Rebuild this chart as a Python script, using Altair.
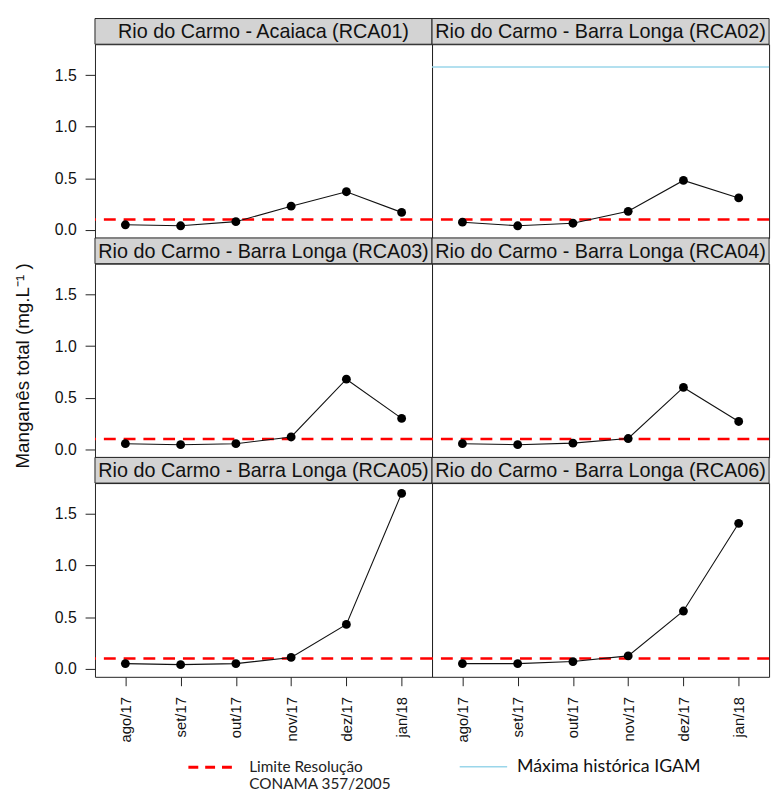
import altair as alt
import pandas as pd

months = ["ago/17", "set/17", "out/17", "nov/17", "dez/17", "jan/18"]
stations = [
    "Rio do Carmo - Acaiaca (RCA01)",
    "Rio do Carmo - Barra Longa (RCA02)",
    "Rio do Carmo - Barra Longa (RCA03)",
    "Rio do Carmo - Barra Longa (RCA04)",
    "Rio do Carmo - Barra Longa (RCA05)",
    "Rio do Carmo - Barra Longa (RCA06)",
]
rca01 = [0.05, 0.04, 0.08, 0.23, 0.37, 0.17]
rca02 = [0.075, 0.04, 0.065, 0.18, 0.48, 0.31]
rca03 = [0.055, 0.045, 0.055, 0.12, 0.68, 0.30]
rca04 = [0.055, 0.045, 0.06, 0.105, 0.60, 0.27]
rca05 = [0.05, 0.04, 0.05, 0.11, 0.43, 1.70]
rca06 = [0.05, 0.05, 0.07, 0.125, 0.56, 1.41]
series = [rca01, rca02, rca03, rca04, rca05, rca06]

limit_label = "Limite Resolução CONAMA 357/2005"
limit_value = 0.1
igam_label = "Máxima histórica IGAM"
igam_station = "Rio do Carmo - Barra Longa (RCA02)"
igam_value = 1.58

y_title = "Manganês total (mg.L⁻¹ )"
y_ticks = [0.0, 0.5, 1.0, 1.5]

W = 341
H = 196
SH = 26
FONT = "Liberation Sans"

rows = []
for k, (name, vals) in enumerate(zip(stations, series)):
    for m, v in zip(months, vals):
        rows.append({
            "estacao": name, "linha": k // 2, "coluna": k % 2, "mes": m, "valor": v,
            "limite": limit_value, "lim_nome": limit_label,
            "igam": igam_value if name == igam_station else None,
            "igam_nome": igam_label,
        })
df = pd.DataFrame(rows)

x = alt.X("mes:N", sort=months,
          scale=alt.Scale(type="point", domain=months, padding=0.55),
          axis=alt.Axis(labelAngle=270, labelFont=FONT, labelFontSize=15, labelColor="#111",
                        tickSize=9, tickColor="#222", labelPadding=11, domain=False, grid=False),
          title=None)
yscale = alt.Scale(domain=[-0.078, 1.80], nice=False, zero=False)
yaxis = alt.Axis(values=y_ticks, format=".1f", labelFont=FONT, labelFontSize=16,
                 labelColor="#111", tickSize=10, tickColor="#222", labelPadding=9,
                 domain=False, grid=False)
y = alt.Y("valor:Q", scale=yscale, axis=yaxis, title=None)

first = "datum.mes == 'ago/17'"

strip_bg = alt.Chart().mark_rect(fill="#d3d3d3", stroke="#222", strokeWidth=1).encode(
    x=alt.value(0), x2=alt.value(W), y=alt.value(-SH), y2=alt.value(0)
).transform_filter(first)
strip_txt = alt.Chart().mark_text(font=FONT, fontSize=20, color="#111",
                                  baseline="middle", align="center").encode(
    text="estacao:N", x=alt.value(W / 2), y=alt.value(-SH / 2 + 1)
).transform_filter(first)

lim = alt.Chart().mark_rule(strokeDash=[12, 8], strokeWidth=2.5).encode(
    y=alt.Y("limite:Q", scale=yscale, axis=yaxis, title=None),
    color=alt.Color("lim_nome:N", scale=alt.Scale(domain=[limit_label], range=["#ff0000"]),
                    legend=alt.Legend(title=None, orient="none", legendX=93, legendY=708,
                                      symbolType="stroke", symbolDash=[10, 7],
                                      symbolStrokeWidth=3, symbolSize=1936,
                                      labelFont="Lato", labelFontSize=15.5, labelColor="#222",
                                      labelExpr="['Limite Resolução', 'CONAMA 357/2005']",
                                      labelLimit=300, labelOffset=16)),
).transform_filter(first)

ig = alt.Chart().mark_rule(strokeWidth=1.5).encode(
    y=alt.Y("igam:Q", scale=yscale, axis=yaxis, title=None),
    stroke=alt.Stroke("igam_nome:N", scale=alt.Scale(domain=[igam_label], range=["#9ad6ea"]),
                      legend=alt.Legend(title=None, orient="none", legendX=368, legendY=706,
                                        symbolType="stroke", symbolStrokeWidth=1.5,
                                        symbolSize=2304, labelFont="Lato", labelFontSize=18,
                                        labelColor="#111", labelLimit=300, labelOffset=9)),
).transform_filter(first).transform_filter("isValid(datum.igam)")

line = alt.Chart().mark_line(color="#111", strokeWidth=1.1).encode(x=x, y=y)
pts = alt.Chart().mark_point(filled=True, shape="circle", size=80, color="black",
                             opacity=1).encode(x=x, y=y)

layered = alt.layer(ig, lim, line, pts, strip_bg, strip_txt, data=df).properties(
    width=W, height=H)

chart = layered.facet(
    row=alt.Row("linha:O", header=alt.Header(labels=False, title=None)),
    column=alt.Column("coluna:O", header=alt.Header(labels=False, title=None,
                                                    labelPadding=0, titlePadding=0)),
    spacing={"row": SH, "column": 0},
    bounds="flush",
).properties(
    title=alt.TitleParams(y_title, orient="left", anchor="middle", font=FONT, fontSize=19,
                          fontWeight="normal", color="#111", offset=22, dx=40),
    background="white",
).configure_view(stroke="#222", strokeWidth=1)

chart.save("out.html", embed_options={"renderer": "svg", "actions": False})
